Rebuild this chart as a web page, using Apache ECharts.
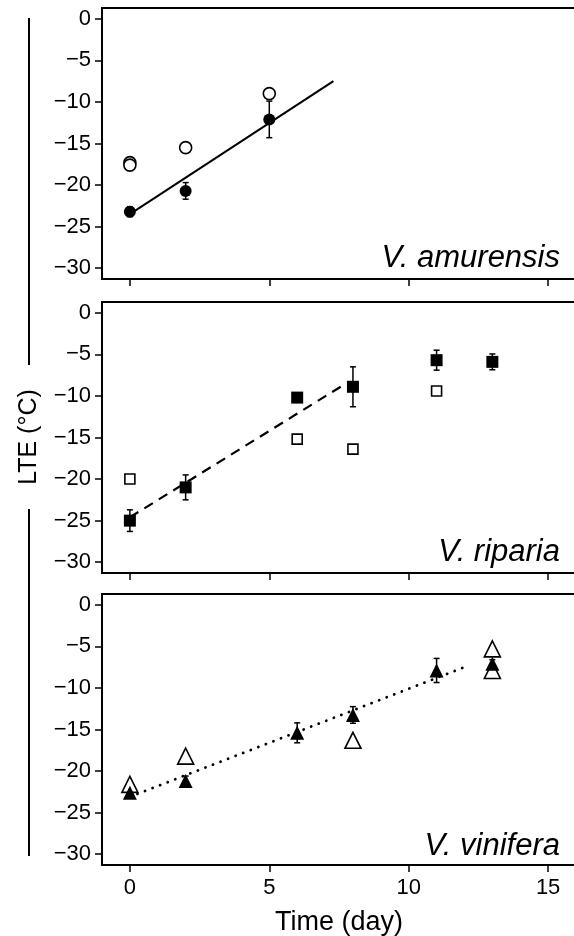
<!DOCTYPE html>
<html>
<head>
<meta charset="utf-8">
<script src="https://cdn.jsdelivr.net/npm/echarts@6/dist/echarts.min.js"></script>
<style>
  html, body { margin: 0; padding: 0; background: #fff; }
  #chart { width: 574px; height: 936px; }
</style>
</head>
<body>
<div id="chart"></div>
<script>
// ---- tick labels ----
const yTicks = [0, -5, -10, -15, -20, -25, -30];
const xTicks = [0, 5, 10, 15];
const speciesNames = ['V. amurensis', 'V. riparia', 'V. vinifera'];

// ---- V. amurensis ----
const amuDaysFilled = [0, 2, 5];
const amuFilled = [-23.2, -20.7, -12.1];
const amuFilledErr = [0.6, 1.0, 2.2];
const amuDaysOpen = [0, 0, 2, 5];
const amuOpen = [-17.3, -17.6, -15.5, -9.0];
const amuFitDays = [0, 7.3];
const amuFit = [-23.5, -7.5];

// ---- V. riparia ----
const ripDaysFilled = [0, 2, 6, 8, 11, 13];
const ripFilled = [-25.0, -21.0, -10.2, -8.9, -5.7, -5.9];
const ripFilledErr = [1.3, 1.5, 0.3, 2.4, 1.2, 0.95];
const ripDaysOpen = [0, 6, 8, 11];
const ripOpen = [-20.0, -15.2, -16.4, -9.4];
const ripFitDays = [0, 7.7];
const ripFit = [-24.6, -8.6];

// ---- V. vinifera ----
const vinDaysFilled = [0, 2, 6, 8, 11, 13];
const vinFilled = [-22.6, -21.2, -15.4, -13.25, -7.9, -7.1];
const vinFilledErr = [0.4, 0.6, 1.2, 1.0, 1.45, 0.5];
const vinDaysOpen = [0, 2, 8, 13, 13];
const vinOpen = [-21.6, -18.2, -16.3, -5.3, -7.9];
const vinFitDays = [0, 12];
const vinFit = [-23.1, -7.5];

const FONT = 'Liberation Sans, Arial, Helvetica, sans-serif';
const zip = (xs, ys) => xs.map((x, i) => [x, ys[i]]);
const zip3 = (xs, ys, es) => xs.map((x, i) => [x, ys[i], es[i]]);

const panels = [
  { fd: amuDaysFilled, f: amuFilled, fe: amuFilledErr, od: amuDaysOpen, o: amuOpen,
    ld: amuFitDays, l: amuFit, sym: 'circle', fs: 12, os: 12, lt: 'solid' },
  { fd: ripDaysFilled, f: ripFilled, fe: ripFilledErr, od: ripDaysOpen, o: ripOpen,
    ld: ripFitDays, l: ripFit, sym: 'rect', fs: 12, os: 10, lt: [10, 7] },
  { fd: vinDaysFilled, f: vinFilled, fe: vinFilledErr, od: vinDaysOpen, o: vinOpen,
    ld: vinFitDays, l: vinFit, sym: 'triangle', fs: 14, os: 16, lt: [0.1, 8] }
];

const gridTops = [8, 302, 594];
const gridH = 271;

const grids = gridTops.map(t => ({
  left: 102, right: -2, top: t, height: gridH,
  show: true, borderColor: '#000', borderWidth: 2, backgroundColor: 'transparent',
  containLabel: false, outerBoundsMode: 'none'
}));

const fmtY = v => (v === 0 ? '0' : (v < 0 ? '\u2212' + Math.abs(v) : String(v)));

const xAxes = panels.map((p, i) => ({
  type: 'value', gridIndex: i, min: -1, max: 16, position: 'bottom',
  splitLine: { show: false },
  axisLine: { show: false, onZero: false },
  axisTick: { show: true, inside: false, customValues: xTicks, length: 7, lineStyle: { color: '#000', width: 1.5 } },
  axisLabel: { show: i === 2, customValues: xTicks, fontSize: 22, color: '#000', fontFamily: FONT, margin: 12 },
  name: i === 2 ? 'Time (day)' : '',
  nameLocation: 'middle', nameGap: 44,
  nameTextStyle: { fontSize: 27, color: '#000', fontFamily: FONT }
}));

const yAxes = panels.map((p, i) => ({
  type: 'value', gridIndex: i, min: -31.3, max: 1.3, position: 'left',
  splitLine: { show: false },
  axisLine: { show: false, onZero: false },
  axisTick: { show: true, inside: false, customValues: yTicks, length: 7, lineStyle: { color: '#000', width: 1.5 } },
  axisLabel: { show: true, customValues: yTicks, fontSize: 22, color: '#000', fontFamily: FONT, margin: 11, formatter: fmtY }
}));

function errRender(params, api) {
  const x = api.value(0), y = api.value(1), e = api.value(2);
  const top = api.coord([x, y + e]);
  const bot = api.coord([x, y - e]);
  const w = 3;
  const st = { stroke: '#000', lineWidth: 1.5 };
  return {
    type: 'group',
    children: [
      { type: 'line', shape: { x1: top[0], y1: top[1], x2: bot[0], y2: bot[1] }, style: st },
      { type: 'line', shape: { x1: top[0] - w, y1: top[1], x2: top[0] + w, y2: top[1] }, style: st },
      { type: 'line', shape: { x1: bot[0] - w, y1: bot[1], x2: bot[0] + w, y2: bot[1] }, style: st }
    ]
  };
}

const series = [];
panels.forEach((p, i) => {
  series.push({
    type: 'line', xAxisIndex: i, yAxisIndex: i, data: zip(p.ld, p.l),
    showSymbol: false, silent: true, z: 1,
    lineStyle: { color: '#000', width: p.lt === 'solid' ? 2 : (i === 2 ? 2.8 : 2.2), type: p.lt, cap: i === 2 ? 'round' : 'butt' }
  });
  series.push({
    type: 'custom', xAxisIndex: i, yAxisIndex: i, data: zip3(p.fd, p.f, p.fe),
    renderItem: errRender, z: 2, silent: true
  });
  series.push({
    type: 'scatter', xAxisIndex: i, yAxisIndex: i, data: zip(p.od, p.o),
    symbol: p.sym, symbolSize: p.os, z: 3,
    itemStyle: { color: '#fff', borderColor: '#000', borderWidth: 1.6, opacity: 1 }
  });
  series.push({
    type: 'scatter', xAxisIndex: i, yAxisIndex: i, data: zip(p.fd, p.f),
    symbol: p.sym, symbolSize: p.fs, z: 4,
    itemStyle: { color: '#000', borderColor: '#000', borderWidth: 0, opacity: 1 }
  });
});

const labelCenters = [258, 552, 846];
const graphic = [
  { type: 'line', shape: { x1: 29, y1: 18, x2: 29, y2: 365 }, style: { stroke: '#000', lineWidth: 2 } },
  { type: 'line', shape: { x1: 29, y1: 509, x2: 29, y2: 856 }, style: { stroke: '#000', lineWidth: 2 } },
  { type: 'text', x: 29, y: 437, rotation: Math.PI / 2,
    style: { text: 'LTE (°C)', fontSize: 25, fontFamily: FONT, fill: '#000', textAlign: 'center', textVerticalAlign: 'middle' } }
].concat(speciesNames.map((n, i) => ({
  type: 'text', x: 560, y: labelCenters[i],
  style: { text: n, fontSize: 31, fontStyle: 'italic', fontFamily: FONT, fill: '#000', textAlign: 'right', textVerticalAlign: 'middle' }
})));

const chart = echarts.init(document.getElementById('chart'), null, { renderer: 'canvas' });
chart.setOption({
  animation: false,
  backgroundColor: '#fff',
  grid: grids,
  xAxis: xAxes,
  yAxis: yAxes,
  series: series,
  graphic: graphic
});
</script>
</body>
</html>
